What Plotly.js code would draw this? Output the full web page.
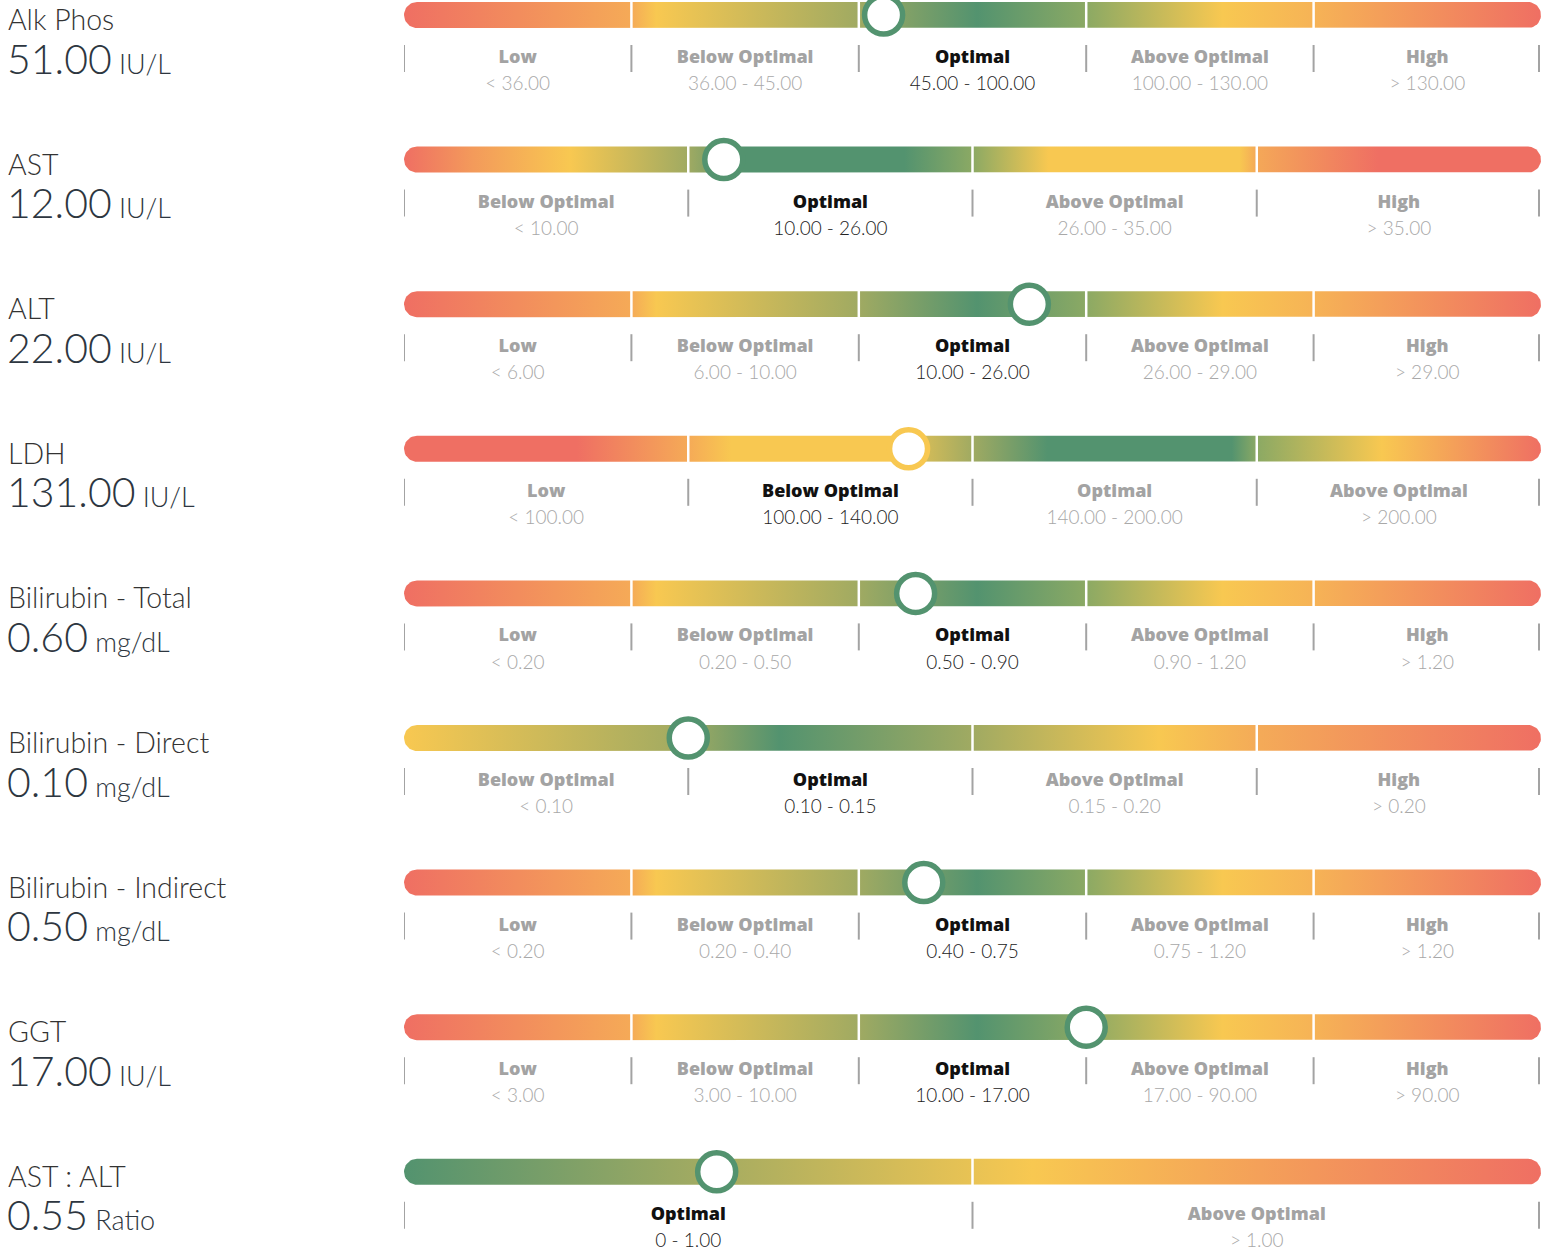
<!DOCTYPE html>
<html>
<head>
<meta charset="utf-8">
<script src="https://cdn.plot.ly/plotly-3.0.1.min.js"></script>
<style>html,body{margin:0;padding:0;background:#fff;}#chart{width:1554px;height:1253px;}</style>
</head>
<body>
<div id="chart"></div>
<script>
// ---------------- DATA ----------------
const names = ['Alk Phos', 'AST', 'ALT', 'LDH', 'Bilirubin - Total', 'Bilirubin - Direct', 'Bilirubin - Indirect', 'GGT', 'AST : ALT'];
const values = [51.00, 12.00, 22.00, 131.00, 0.60, 0.10, 0.50, 17.00, 0.55];
const units = ['IU/L', 'IU/L', 'IU/L', 'IU/L', 'mg/dL', 'mg/dL', 'mg/dL', 'IU/L', 'Ratio'];
const categories = [
  ['Low', 'Below Optimal', 'Optimal', 'Above Optimal', 'High'],
  ['Below Optimal', 'Optimal', 'Above Optimal', 'High'],
  ['Low', 'Below Optimal', 'Optimal', 'Above Optimal', 'High'],
  ['Low', 'Below Optimal', 'Optimal', 'Above Optimal'],
  ['Low', 'Below Optimal', 'Optimal', 'Above Optimal', 'High'],
  ['Below Optimal', 'Optimal', 'Above Optimal', 'High'],
  ['Low', 'Below Optimal', 'Optimal', 'Above Optimal', 'High'],
  ['Low', 'Below Optimal', 'Optimal', 'Above Optimal', 'High'],
  ['Optimal', 'Above Optimal']
];
const bounds = [
  [36, 45, 100, 130],
  [10, 26, 35],
  [6, 10, 26, 29],
  [100, 140, 200],
  [0.20, 0.50, 0.90, 1.20],
  [0.10, 0.15, 0.20],
  [0.20, 0.40, 0.75, 1.20],
  [3, 10, 17, 90],
  [1.00]
];
const lowerLimits = [null, null, null, null, null, null, null, null, 0];

// ---------------- STYLE ----------------
const C = {R: '#EF6F63', O: '#F5AA57', Y: '#F8C851', OL: '#A0AA62', OG: '#8BA964', G: '#53936F'};
const fiveSeg = [[0, C.R], [0.2, C.O], [0.222, C.Y], [0.4, C.OL], [0.504, C.G], [0.6, C.OG], [0.72, C.Y], [0.8, '#F6B356'], [1, C.R]];
const gradients = [
  fiveSeg,
  [[0, C.R], [0.06, '#F39A5B'], [0.146, C.Y], [0.25, C.OL], [0.30, C.G], [0.44, C.G], [0.5, C.OG], [0.567, C.Y], [0.735, C.Y], [0.75, '#F4A858'], [0.857, C.R], [1, C.R]],
  fiveSeg,
  [[0, C.R], [0.152, C.R], [0.25, C.O], [0.288, C.Y], [0.427, C.Y], [0.5, C.OL], [0.566, C.G], [0.728, C.G], [0.75, C.OG], [0.86, C.Y], [1, C.R]],
  fiveSeg,
  [[0, C.Y], [0.25, C.OL], [0.33, C.G], [0.5, C.OL], [0.664, C.Y], [0.75, '#F4AB58'], [1, C.R]],
  fiveSeg,
  fiveSeg,
  [[0, C.G], [0.256, C.OL], [0.553, C.Y], [1, C.R]]
];
const W = 1554, H = 1253;
const barLeft = 404, barRight = 1541, rowTop = 15, pitch = 144.6;
const xUnit = barRight - barLeft;
const px2y = p => p / pitch;
const FONT = 'Lato, "Open Sans", sans-serif';
const BOLDFONT = '"Open Sans", Lato, sans-serif';

function fmt(v) { return v === 0 ? '0' : v.toFixed(2); }
function rangeLabels(i) {
  const b = bounds[i], n = categories[i].length, out = [];
  for (let k = 0; k < n; k++) {
    if (k === 0) out.push(lowerLimits[i] !== null ? fmt(lowerLimits[i]) + ' - ' + fmt(b[0]) : '< ' + fmt(b[0]));
    else if (k === n - 1) out.push('> ' + fmt(b[k - 1]));
    else out.push(fmt(b[k - 1]) + ' - ' + fmt(b[k]));
  }
  return out;
}
function currentIndex(i) {
  const v = values[i], b = bounds[i], n = categories[i].length;
  for (let k = 0; k < n; k++) {
    if (k === 0) { if (lowerLimits[i] !== null ? (v >= lowerLimits[i] && v <= b[0]) : v < b[0]) return k; }
    else if (k === n - 1) { if (v > b[k - 1]) return k; }
    else if (v >= b[k - 1] && v <= b[k]) return k;
  }
  return 0;
}
function markerPos(i, k) {
  const v = values[i], b = bounds[i], n = categories[i].length;
  const lo = k === 0 ? (lowerLimits[i] !== null ? lowerLimits[i] : b[0]) : b[k - 1];
  const hi = k === n - 1 ? v : b[k];
  const f = hi > lo ? (v - lo) / (hi - lo) : 0.5;
  return (k + f) / n;
}
function catColor(cat) {
  if (cat === 'Optimal') return C.G;
  if (cat === 'Below Optimal' || cat === 'Above Optimal') return C.Y;
  return C.R;
}

const traces = [];
const annotations = [];
const rx = 13 / xUnit, ry = px2y(13);

names.forEach((name, i) => {
  const yc = i;
  const n = categories[i].length;
  // pill-shaped gradient bar
  const xs = [], ys = [];
  const N = 24;
  for (let k = 0; k <= N; k++) {
    const a = -Math.PI / 2 + Math.PI * k / N;
    xs.push(rx - rx * Math.cos(a)); ys.push(yc + ry * Math.sin(a));
  }
  for (let k = 0; k <= N; k++) {
    const a = Math.PI / 2 - Math.PI * k / N;
    xs.push(1 - rx + rx * Math.cos(a)); ys.push(yc + ry * Math.sin(a));
  }
  traces.push({
    type: 'scatter', mode: 'lines', x: xs, y: ys, fill: 'toself',
    line: {width: 0, color: 'rgba(0,0,0,0)'},
    fillgradient: {type: 'horizontal', colorscale: gradients[i], start: 0, stop: 1},
    hoverinfo: 'skip', showlegend: false
  });
  // white dividers & grey ticks
  const dx = [], dy = [], tx = [], ty = [];
  for (let k = 0; k <= n; k++) {
    const xb = k / n;
    if (k > 0 && k < n) { dx.push(xb, xb, null); dy.push(yc - ry - 0.01, yc + ry + 0.01, null); }
    const xt = k === 0 ? 0 : (k === n ? 1 - 2 / xUnit : xb);
    tx.push(xt, xt, null); ty.push(yc + px2y(30), yc + px2y(57), null);
  }
  traces.push({type: 'scatter', mode: 'lines', x: dx, y: dy, line: {color: '#ffffff', width: 2.5}, hoverinfo: 'skip', showlegend: false});
  traces.push({type: 'scatter', mode: 'lines', x: tx, y: ty, line: {color: '#A3A3A3', width: 2}, hoverinfo: 'skip', showlegend: false});
  // labels
  const cur = currentIndex(i);
  const cx = categories[i].map((c, k) => (k + 0.5) / n);
  traces.push({
    type: 'scatter', mode: 'text', x: cx, y: cx.map(() => yc + px2y(43.5)),
    text: categories[i], textposition: 'middle center', cliponaxis: false,
    textfont: {family: BOLDFONT, size: 18, weight: 800, color: categories[i].map((c, k) => k === cur ? '#111111' : '#A3A3A3')},
    hoverinfo: 'skip', showlegend: false
  });
  traces.push({
    type: 'scatter', mode: 'text', x: cx, y: cx.map(() => yc + px2y(70.5)),
    text: rangeLabels(i), textposition: 'middle center', cliponaxis: false,
    textfont: {family: FONT, size: 19, weight: 300, color: categories[i].map((c, k) => k === cur ? '#222222' : '#A8A8A8')},
    hoverinfo: 'skip', showlegend: false
  });
  // marker
  traces.push({
    type: 'scatter', mode: 'markers', x: [markerPos(i, cur)], y: [yc], cliponaxis: false,
    marker: {size: 38, color: '#ffffff', line: {width: 5.5, color: catColor(categories[i][cur])}},
    hoverinfo: 'skip', showlegend: false
  });
  // left labels
  annotations.push({
    xref: 'paper', yref: 'y', x: 6 / W, y: yc + px2y(4), xanchor: 'left', yanchor: 'middle',
    text: name, showarrow: false, font: {family: FONT, size: 28.5, weight: 300, color: '#333333'}
  });
  annotations.push({
    xref: 'paper', yref: 'y', x: 5 / W, y: yc + px2y(43), xanchor: 'left', yanchor: 'middle',
    text: '<span style="font-size:41px">' + values[i].toFixed(2) + '</span> <span style="font-size:27px">' + units[i] + '</span>',
    showarrow: false, font: {family: FONT, size: 27, weight: 300, color: '#2D3640'}
  });
});

const layout = {
  width: W, height: H, margin: {l: 0, r: 0, t: 0, b: 0},
  paper_bgcolor: '#ffffff', plot_bgcolor: '#ffffff',
  xaxis: {domain: [barLeft / W, barRight / W], range: [0, 1], visible: false, fixedrange: true},
  yaxis: {domain: [0, 1], range: [(H - rowTop) / pitch, -rowTop / pitch], visible: false, fixedrange: true},
  showlegend: false, annotations: annotations
};
Plotly.newPlot('chart', traces, layout, {displayModeBar: false, staticPlot: true});
</script>
</body>
</html>
